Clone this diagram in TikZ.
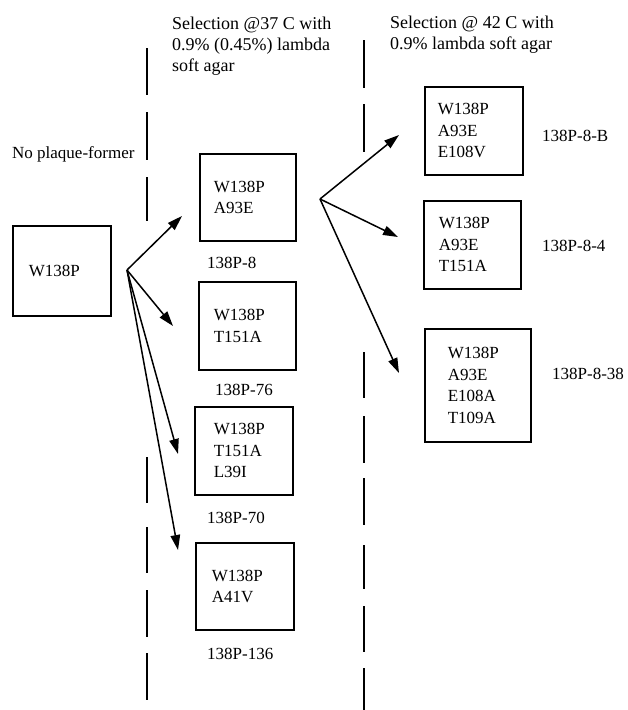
\documentclass[tikz,border=0pt]{standalone}
\usepackage{fontspec}
\setmainfont{Liberation Serif}
\usetikzlibrary{arrows.meta}
\begin{document}
\begin{tikzpicture}[x=1pt,y=-1pt,
  box/.style={draw, line width=1.7pt, rectangle, anchor=north west, inner ysep=0pt, align=left, font=\fontsize{17}{21.5}\selectfont},
  lbl/.style={anchor=base west, inner sep=0pt, font=\fontsize{17}{21}\selectfont},
  hdr/.style={anchor=north west, inner sep=0pt, align=left, font=\fontsize{18}{21}\selectfont},
  arr/.style={line width=1.5pt, -{Triangle[length=15pt,width=9.5pt]}},
  divider/.style={line width=1.6pt}]
\useasboundingbox (0,0) rectangle (627,710);

% headers
\node[hdr] (h1) at (172,16.7) {Selection @37 C with\\0.9\% (0.45\%) lambda\\soft agar};
\node[hdr] (h2) at (390,15.7) {Selection @ 42 C with\\0.9\% lambda soft agar};
\node[lbl] (npf) at (12,158) {No plaque-former};

% dividers
\foreach \a/\b in {48/95,112/160,177/221,457/503,527/573,590/637,653/700}
  \draw[divider] (147,\a) -- (147,\b);
\foreach \a/\b in {40/88,104/152,352/398,416/463,478/525,545/589,606/652,668/710}
  \draw[divider] (364,\a) -- (364,\b);

% boxes
\node[box, minimum width=98pt, minimum height=90pt, inner xsep=16pt, text width=66pt] (A) at (12,225) {W138P};
\node[box, minimum width=96pt, minimum height=87pt, inner xsep=14pt, text width=68pt] (B) at (199,153) {W138P\\A93E};
\node[box, minimum width=97pt, minimum height=88pt, inner xsep=15pt, text width=67pt] (C) at (198,281) {W138P\\T151A};
\node[box, minimum width=98pt, minimum height=88pt, inner xsep=19pt, text width=60pt] (D) at (194,406) {W138P\\T151A\\L39I};
\node[box, minimum width=98pt, minimum height=87pt, inner xsep=16pt, text width=66pt] (E) at (195,542) {W138P\\A41V};
\node[box, minimum width=98pt, minimum height=88pt, inner xsep=13pt, text width=72pt] (P8B) at (424,86) {W138P\\A93E\\E108V};
\node[box, minimum width=97pt, minimum height=88pt, inner xsep=15pt, text width=67pt] (P84) at (423,200) {W138P\\A93E\\T151A};
\node[box, minimum width=106pt, minimum height=113pt, inner xsep=23pt, text width=60pt] (P838) at (424,328) {W138P\\A93E\\E108A\\T109A};

% labels
\node[lbl] (lB) at (207,268) {138P-8};
\node[lbl] (lC) at (215,395) {138P-76};
\node[lbl] (lD) at (207,523) {138P-70};
\node[lbl] (lE) at (207,659) {138P-136};
\node[lbl] (l8B) at (542,141) {138P-8-B};
\node[lbl] (l84) at (542,251) {138P-8-4};
\node[lbl] (l838) at (552,379) {138P-8-38};

% arrows
\coordinate (f1) at (127,270);
\coordinate (tB) at (182,216);
\coordinate (tC) at (173,326);
\coordinate (tD) at (178,454);
\coordinate (tE) at (178,550);
\coordinate (f2) at (320,199);
\coordinate (t8B) at (399,135);
\coordinate (t84) at (398,237);
\coordinate (t838) at (399,373);
\draw[arr] (f1) -- (tB);
\draw[arr] (f1) -- (tC);
\draw[arr] (f1) -- (tD);
\draw[arr] (f1) -- (tE);
\draw[arr] (f2) -- (t8B);
\draw[arr] (f2) -- (t84);
\draw[arr] (f2) -- (t838);
\end{tikzpicture}
\end{document}
